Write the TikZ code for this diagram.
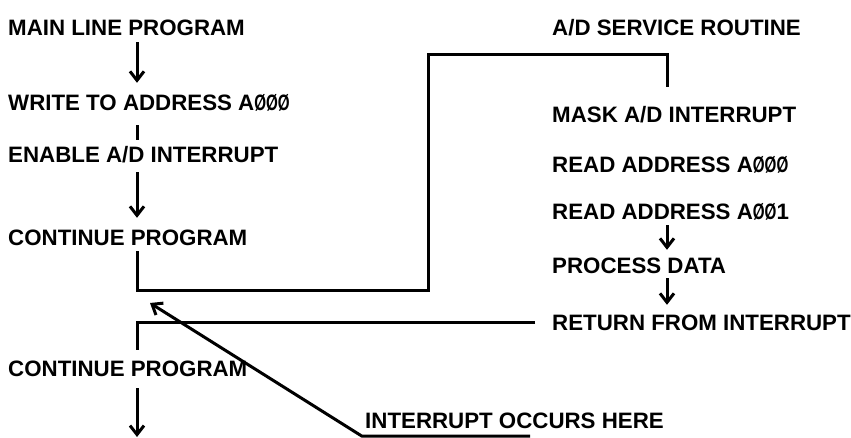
\documentclass[tikz,border=0pt]{standalone}
\usepackage{fontspec}
\usepackage{graphicx}
\setmainfont{Liberation Sans}
\usetikzlibrary{positioning,arrows.meta}
\newcommand{\slz}{\scalebox{0.68}[1]{Ø}}

\begin{document}
\begin{tikzpicture}[
  x=1pt, y=-1pt,
  font=\fontsize{22.3}{26}\selectfont\bfseries,
  lbl/.style={anchor=west, inner sep=3pt, text height=16pt, text depth=0pt},
  flow/.style={line width=3pt},
  arrow/.style={flow, -{Straight Barb[length=9pt, width=14pt]}}
]
\useasboundingbox (0,0) rectangle (851,438);
\coordinate (spine) at (137,0);
\coordinate (rspine) at (667,0);

% main line program
\node[lbl] (main) at (5,28) {MAIN LINE PROGRAM};
\node[lbl] (write) at (5,103) {WRITE TO ADDRESS A\slz\slz\slz};
\node[lbl] (enable) at (5,155) {ENABLE A/D INTERRUPT};
\node[lbl] (cont1) at (5,238) {CONTINUE PROGRAM};
\node[lbl] (cont2) at (5,368) {CONTINUE PROGRAM};

% service routine
\node[lbl] (isr) at (549,28) {A/D SERVICE ROUTINE};
\node[lbl] (mask) at (549,115) {MASK A/D INTERRUPT};
\node[lbl] (rd0) at (549,165) {READ ADDRESS A\slz\slz\slz};
\node[lbl] (rd1) at (549,212) {READ ADDRESS A\slz\slz 1};
\node[lbl] (proc) at (549,265) {PROCESS DATA};
\node[lbl] (ret) at (549,322) {RETURN FROM INTERRUPT};
\node[lbl] (occurs) at (362,420) {INTERRUPT OCCURS HERE};

\coordinate (jmp) at (428,291);
\coordinate (jtop) at (428,55);
\coordinate (hit) at (150,303);
\coordinate (next) at (137,437);

\draw[arrow, shorten <=3pt, shorten >=9pt] (main.south -| spine) -- (write.north -| spine);
\draw[flow, shorten <=11pt, shorten >=4pt] (write.south -| spine) -- (enable.north -| spine);
\draw[arrow, shorten <=6pt, shorten >=9pt] (enable.south -| spine) -- (cont1.north -| spine);
\draw[flow, shorten <=2pt, shorten >=17pt] (cont1.south -| spine) |- (jmp) -- (jtop) -| (mask.north -| rspine);
\draw[arrow, shorten <=2pt, shorten >=4pt] (rd1.south -| rspine) -- (proc.north -| rspine);
\draw[arrow, shorten <=2pt, shorten >=6pt] (proc.south -| rspine) -- (ret.north -| rspine);
\draw[flow, shorten <=14pt, shorten >=7pt] (ret.west) -| (cont2.north -| spine);
\draw[arrow, shorten <=9pt] (cont2.south -| spine) -- (next);
\draw[arrow] ([xshift=168pt, yshift=-5pt]occurs.south west) -- ([yshift=-5pt]occurs.south west) -- (hit);
\end{tikzpicture}
\end{document}
